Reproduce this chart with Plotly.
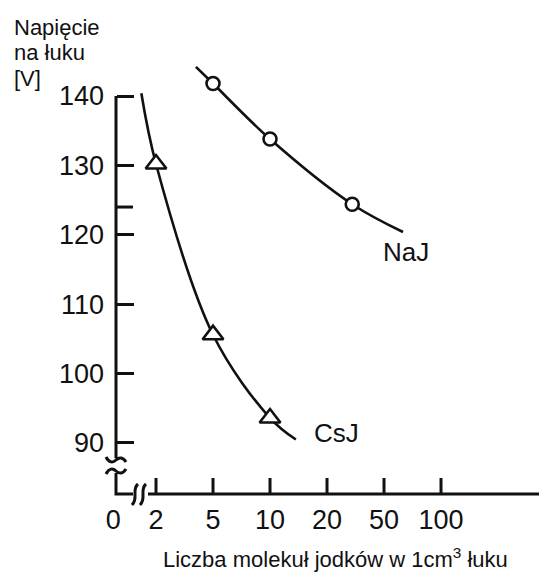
import numpy as np
import plotly.graph_objects as go

# ---- data -------------------------------------------------------------
x_tick_values = [2, 5, 10, 20, 50, 100]
x_tick_labels = ["2", "5", "10", "20", "50", "100"]
x_zero_label = "0"

y_tick_values = [90, 100, 110, 120, 130, 140]
y_tick_labels = ["90", "100", "110", "120", "130", "140"]
y_extra_ticks = [124]

# NaJ: measured points (circles) and the drawn curve
naj_x = [5, 10, 30]
naj_y = [141.8, 133.8, 124.4]
naj_curve_x = [3.8, 5, 10, 30, 63]
naj_curve_y = [144.2, 141.8, 133.8, 124.4, 120.4]

# CsJ: measured points (triangles) and the drawn curve
csj_x = [2, 5, 10]
csj_y = [130.2, 105.6, 93.6]
csj_curve_x = [1.58, 2, 5, 10, 13.7]
csj_curve_y = [140.4, 130.2, 105.6, 93.6, 90.5]

y_title_lines = ["Napięcie", "na łuku", "[V]"]
x_title = "Liczba molekuł jodków w 1cm<sup>3</sup> łuku"

# ---- figure geometry --------------------------------------------------
W, H = 539, 577
L, R, T, B = 90, 0, 40, 83
PW, PH = W - L - R, H - T - B
FONT = "Liberation Sans, Arial, sans-serif"
INK = "#111111"


def paper_x(px):
    return (px - L) / PW


def paper_y(py):
    return (H - B - py) / PH


# The horizontal scale gives each labelled value the same spacing
# (2, 5, 10, 20, 50, 100); values in between are placed logarithmically
# between their neighbouring ticks.
_lt = np.log10(x_tick_values)
_idx = np.arange(len(x_tick_values), dtype=float)


def to_axis(v):
    lv = np.log10(np.asarray(v, dtype=float))
    out = np.interp(lv, _lt, _idx)
    lo = lv < _lt[0]
    hi = lv > _lt[-1]
    out = np.where(lo, (lv - _lt[0]) / (_lt[1] - _lt[0]), out)
    out = np.where(hi, _idx[-1] + (lv - _lt[-1]) / (_lt[-1] - _lt[-2]), out)
    return out


ZERO_POS = -0.75           # where the "0" origin label sits on the scale
Y_AXIS_POS = paper_x(116)  # vertical axis position
Y_BREAK = 87.8             # lower end of the upper part of the vertical axis

fig = go.Figure()

line_style = dict(color=INK, width=2.6)

fig.add_trace(go.Scatter(
    x=to_axis(naj_curve_x), y=naj_curve_y, mode="lines",
    line=dict(**line_style, shape="spline"), hoverinfo="skip"))
fig.add_trace(go.Scatter(
    x=to_axis(naj_x), y=naj_y, mode="markers",
    marker=dict(symbol="circle", size=13, color="white",
                line=dict(color=INK, width=2.6))))

fig.add_trace(go.Scatter(
    x=to_axis(csj_curve_x), y=csj_curve_y, mode="lines",
    line=dict(**line_style, shape="spline"), hoverinfo="skip"))
fig.add_trace(go.Scatter(
    x=to_axis(csj_x), y=csj_y, mode="markers",
    marker=dict(symbol="triangle-up", size=18, color="white",
                line=dict(color=INK, width=2.6))))

# ---- axes -------------------------------------------------------------
x_range = [-1.158, -1.158 + PW / 57.0]
fig.update_xaxes(
    range=x_range, showgrid=False, zeroline=False, showline=False,
    ticks="", tickmode="array",
    tickvals=[ZERO_POS] + list(to_axis(x_tick_values)),
    ticktext=[x_zero_label] + x_tick_labels,
    tickfont=dict(family=FONT, size=27, color=INK),
    ticklabelstandoff=7,
)
fig.update_yaxes(
    range=[82.65, 148.07], showgrid=False, zeroline=False, showline=False,
    anchor="free", position=Y_AXIS_POS,
    ticks="inside", ticklen=17, tickwidth=3, tickcolor=INK,
    tickmode="array",
    tickvals=y_tick_values, ticktext=y_tick_labels,
    tickfont=dict(family=FONT, size=27, color=INK),
    ticklabelstandoff=12,
)

shapes = []
ax_line = dict(color=INK, width=3)

# upper part of the vertical axis
shapes.append(dict(type="line", xref="paper", yref="y",
                   x0=Y_AXIS_POS, x1=Y_AXIS_POS, y0=140, y1=Y_BREAK,
                   line=ax_line))
# unlabelled intermediate tick on the vertical axis
for v in y_extra_ticks:
    shapes.append(dict(type="line", xref="paper", yref="y",
                       xsizemode="pixel", xanchor=Y_AXIS_POS,
                       x0=0, x1=17, y0=v, y1=v, line=ax_line))
# horizontal axis after the break
shapes.append(dict(type="line", xref="paper", yref="paper",
                   x0=paper_x(148), x1=1, y0=0, y1=0, line=ax_line))
# corner piece with both axis breaks (pixel offsets from the corner)
corner_path = (
    "M 0,21 L 0,0 L 17,0 "
    "M -10,37 C -7,31 -3,31 0,34 C 3,37 7,37 10,32 "
    "M -10,20 C -7,26 -3,26 0,23 C 3,20 7,20 10,25 "
    "M 22,10 C 15,4 23,-4 16,-11 "
    "M 30,10 C 23,4 31,-4 24,-11"
)
shapes.append(dict(type="path", xref="paper", yref="paper",
                   xsizemode="pixel", ysizemode="pixel",
                   xanchor=Y_AXIS_POS, yanchor=0,
                   path=corner_path, line=ax_line,
                   fillcolor="rgba(0,0,0,0)"))
# tick marks on the horizontal axis
for p in to_axis(x_tick_values):
    shapes.append(dict(type="line", xref="x", yref="paper",
                       ysizemode="pixel", yanchor=0,
                       x0=p, x1=p, y0=0, y1=16, line=ax_line))

annotations = []
for i, txt in enumerate(y_title_lines):
    annotations.append(dict(
        text=txt, xref="paper", yref="paper",
        x=paper_x(12), y=paper_y(27 + 25.5 * i),
        xanchor="left", yanchor="middle", align="left", showarrow=False,
        font=dict(family=FONT, size=22, color=INK)))
annotations += [
    dict(text=x_title,
         xref="paper", yref="paper", x=paper_x(335), y=paper_y(558),
         xanchor="center", yanchor="middle", showarrow=False,
         font=dict(family=FONT, size=22, color=INK)),
    dict(text="NaJ", xref="paper", yref="y", x=paper_x(381), y=117.5,
         xanchor="left", yanchor="middle", showarrow=False,
         font=dict(family=FONT, size=26, color=INK)),
    dict(text="CsJ", xref="paper", yref="y", x=paper_x(312), y=91.4,
         xanchor="left", yanchor="middle", showarrow=False,
         font=dict(family=FONT, size=26, color=INK)),
]

fig.update_layout(
    width=W, height=H,
    margin=dict(l=L, r=R, t=T, b=B),
    paper_bgcolor="white", plot_bgcolor="white",
    showlegend=False,
    shapes=shapes, annotations=annotations,
)

fig.write_html("out.html")
